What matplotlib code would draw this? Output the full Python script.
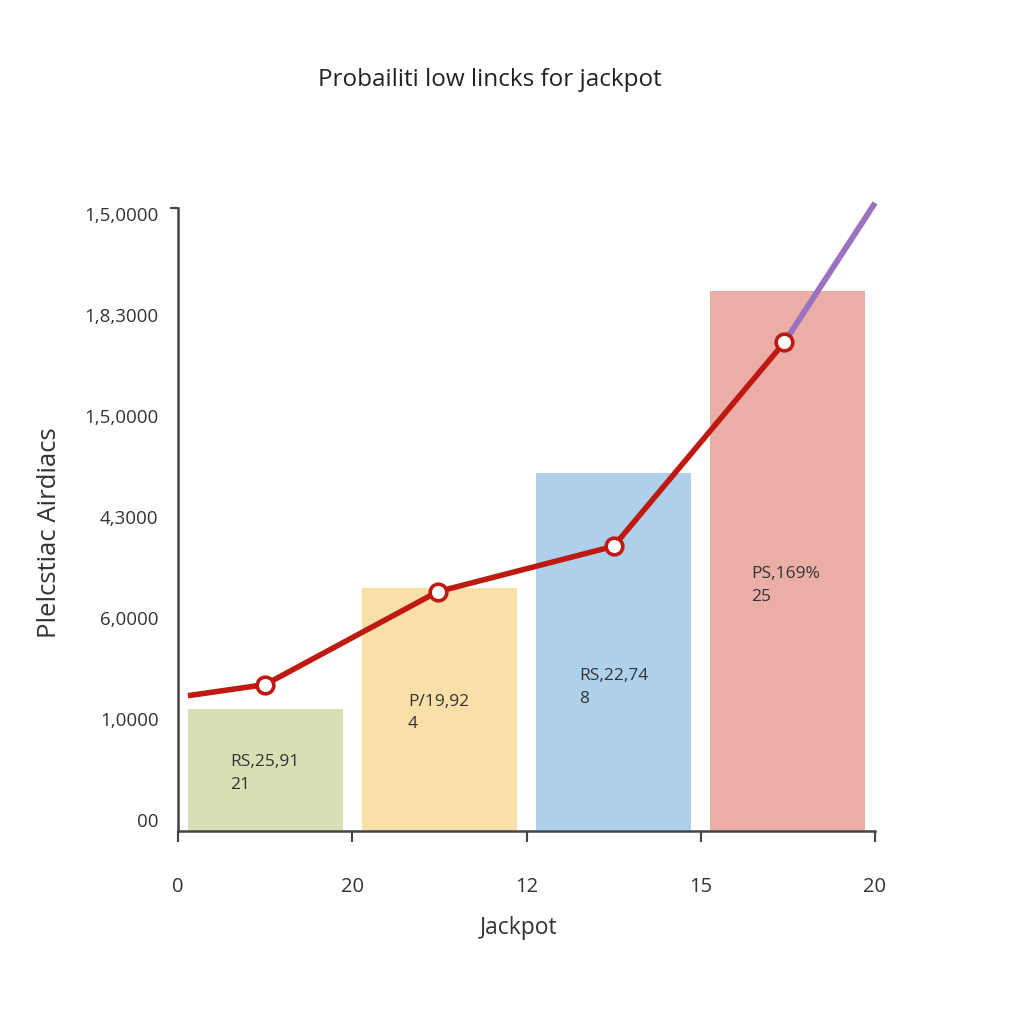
import matplotlib
matplotlib.use("Agg")
import matplotlib.pyplot as plt

plt.rcParams['font.family'] = ['Open Sans', 'DejaVu Sans']

# ---- data ----
title = "Probailiti low lincks for jackpot"
x_label = "Jackpot"
y_label = "Plelcstiac Airdiacs"
x_tick_labels = ["0", "20", "12", "15", "20"]
y_tick_labels = ["00", "1,0000", "6,0000", "4,3000", "1,5,0000", "1,8,3000", "1,5,0000"]
bar_positions = [0.5, 1.5, 2.5, 3.5]
bar_heights = [1.10, 2.30, 3.44, 5.24]
bar_colors = ["#d6e0b4", "#f9dfa8", "#afd0eb", "#ebaea7"]
bar_texts = ["RS,25,91\n21", "P/19,92\n4", "RS,22,74\n8", "PS,169%\n25"]
bar_text_x = [0.30, 1.32, 2.30, 3.29]
bar_text_y = [0.46, 1.06, 1.31, 2.32]
line_x = [0.057, 0.50, 1.49, 2.50, 3.48]
line_y = [1.23, 1.34, 2.26, 2.71, 4.73]
marker_idx = [1, 2, 3, 4]
ext_x = [3.48, 4.0]
ext_y = [4.73, 6.11]

YMIN, YMAX = -0.11, 6.06

fig = plt.figure(figsize=(10.24, 10.24), dpi=100)
fig.patch.set_facecolor("white")
ax = fig.add_axes([178/1024, 1-831/1024, 697/1024, 623/1024])

ax.bar(bar_positions, [h - YMIN for h in bar_heights], bottom=YMIN, width=0.89,
       color=bar_colors, edgecolor="none", zorder=1)

for tx, ty, t in zip(bar_text_x, bar_text_y, bar_texts):
    ax.text(tx, ty, t, fontsize=12.5, color="#333333", ha="left", va="center",
            linespacing=1.55, zorder=3)

ax.plot(ext_x, ext_y, color="#9b72c0", lw=4.2, solid_capstyle="butt", zorder=2,
        clip_on=False)
ax.plot(line_x, line_y, color="#bf1a12", lw=4.0, solid_capstyle="butt", zorder=4,
        clip_on=False)
ax.plot([line_x[i] for i in marker_idx], [line_y[i] for i in marker_idx],
        linestyle="none", marker="o", markersize=12, markerfacecolor="white",
        markeredgecolor="#bf1a12", markeredgewidth=2.6, zorder=5, clip_on=False)

ax.set_xlim(0, 4)
ax.set_ylim(YMIN, YMAX)

ax.set_xticks(range(len(x_tick_labels)))
ax.set_xticklabels(x_tick_labels, fontsize=14.5, color="#333333")
ax.tick_params(axis="x", direction="out", length=8, width=1.5, color="#444444", pad=25)

ax.set_yticks(range(len(y_tick_labels)))
ax.set_yticklabels(y_tick_labels, fontsize=13.5, color="#333333")
ax.tick_params(axis="y", which="major", length=0, pad=14)
ax.set_yticks([1, 4, YMAX], minor=True)
ax.tick_params(axis="y", which="minor", direction="out", length=6, width=1.5, color="#444444")

for s in ["top", "right"]:
    ax.spines[s].set_visible(False)
for s in ["left", "bottom"]:
    ax.spines[s].set_color("#444444")
    ax.spines[s].set_linewidth(1.8)

fig.text(490/1024, 1-80/1024, title, fontsize=17.5, color="#222222", ha="center", va="center")
fig.text(519/1024, 1-928/1024, x_label, fontsize=16.5, color="#333333", ha="center", va="center")
fig.text(50/1024, 1-533/1024, y_label, fontsize=18.5, color="#333333", ha="center", va="center",
         rotation=90)

fig.savefig("out.png", dpi=100, facecolor="white")
